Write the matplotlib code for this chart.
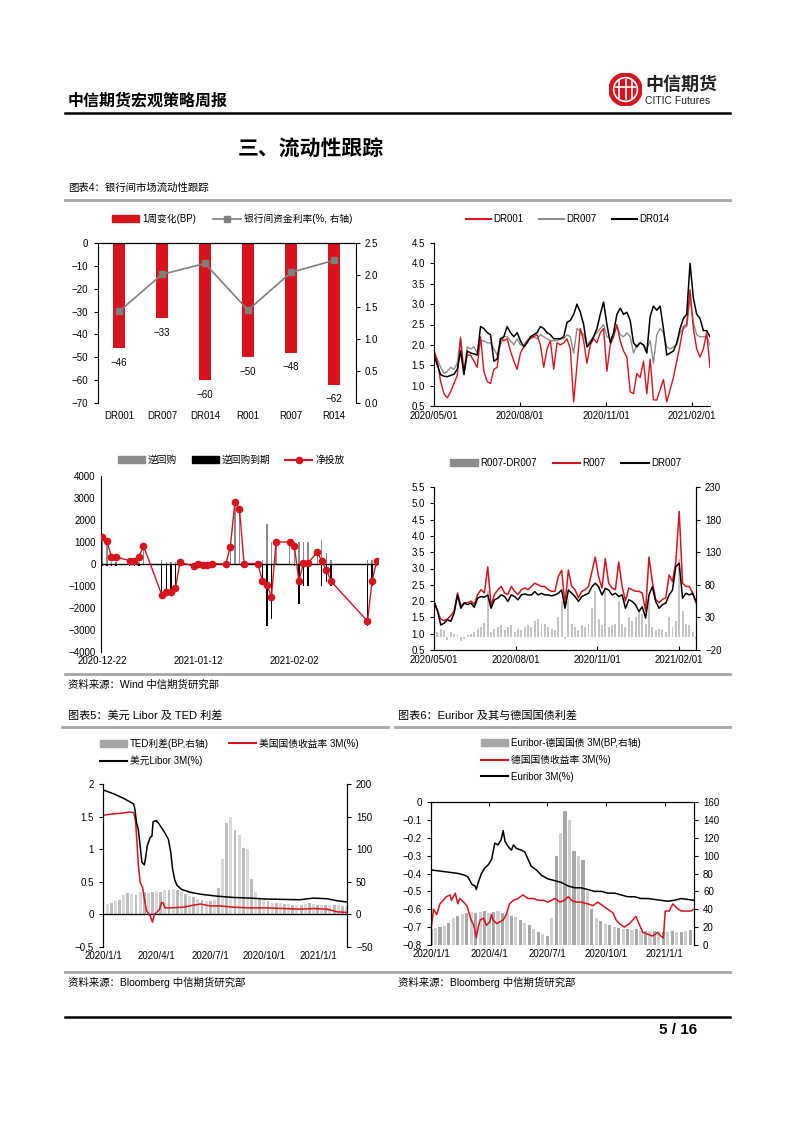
import numpy as np
import matplotlib
matplotlib.use('Agg')
import matplotlib.pyplot as plt
from matplotlib.lines import Line2D
from matplotlib.patches import Patch, Circle
from matplotlib.ticker import FuncFormatter

plt.rcParams['font.family'] = ['Liberation Sans', 'Noto Sans CJK SC']
plt.rcParams['font.size'] = 7
plt.rcParams['axes.unicode_minus'] = True

# ---- chart 1: interbank rates, 1-week change ----
c1_cats = ['DR001', 'DR007', 'DR014', 'R001', 'R007', 'R014']
c1_change = [-46, -33, -60, -50, -48, -62]
c1_rate = [1.43, 2.01, 2.18, 1.45, 2.04, 2.23]

# ---- chart 2: DR001 / DR007 / DR014 (2020/05/01 - 2021/02/19) ----
dr001 = [1.85, 1.60, 1.10, 0.80, 0.70, 0.85, 1.05, 1.25, 2.15, 1.30,
         1.75, 1.75, 1.60, 1.45, 2.20, 1.35, 1.10, 1.05, 1.40, 1.45,
         2.15, 2.10, 2.15, 1.85, 1.60, 1.40, 1.80, 1.95, 2.10, 2.15,
         2.20, 2.25, 2.00, 1.45, 1.90, 2.10, 1.40, 2.05, 2.00, 2.05,
         2.15, 1.90, 0.60, 1.50, 2.40, 2.10, 1.55, 2.00, 2.15, 2.05,
         2.30, 2.40, 1.35, 2.00, 2.20, 2.50, 2.10, 1.85, 1.70, 0.85,
         0.80, 1.30, 1.20, 1.60, 0.80, 1.65, 0.65, 0.65, 0.90, 1.15,
         0.60, 0.90, 1.20, 1.60, 2.00, 2.45, 2.50, 3.35, 2.40, 1.90,
         1.70, 1.90, 2.30, 1.45]
dr007 = [1.85, 1.65, 1.45, 1.30, 1.35, 1.45, 1.40, 1.55, 2.20, 1.35,
         1.95, 1.90, 1.95, 1.80, 2.10, 2.10, 2.05, 2.05, 1.90, 1.75,
         2.00, 2.20, 2.20, 2.10, 2.00, 2.15, 2.00, 2.00, 2.10, 2.20,
         2.20, 2.15, 2.25, 2.20, 2.15, 2.10, 2.10, 2.10, 2.15, 2.15,
         2.25, 2.20, 1.80, 2.40, 2.35, 2.25, 2.00, 2.10, 2.20, 2.30,
         2.40, 2.50, 2.20, 2.15, 2.25, 2.45, 2.25, 2.20, 2.30, 2.20,
         1.80, 2.00, 2.05, 2.00, 1.90, 2.10, 1.55, 2.25, 2.40, 2.30,
         1.95, 1.90, 1.95, 2.00, 2.30, 2.40, 2.45, 3.15, 2.55, 2.25,
         2.20, 2.20, 2.20, 2.00]
dr014 = [1.75, 1.50, 1.27, 1.23, 1.22, 1.25, 1.28, 1.40, 1.85, 1.27,
         1.85, 1.80, 1.78, 1.75, 2.45, 2.40, 2.30, 2.25, 1.60, 1.65,
         2.15, 2.20, 2.45, 2.30, 2.20, 2.30, 2.10, 1.95, 2.05, 2.20,
         2.25, 2.30, 2.45, 2.40, 2.30, 2.25, 2.15, 2.15, 2.15, 2.20,
         2.55, 2.60, 2.75, 3.00, 2.80, 2.50, 1.95, 2.05, 2.20, 2.40,
         2.75, 3.05, 2.50, 2.05, 2.30, 2.75, 2.90, 2.75, 2.80, 2.60,
         2.05, 1.95, 2.05, 2.00, 1.80, 2.70, 2.95, 2.85, 2.95, 2.40,
         1.75, 1.80, 1.85, 2.05, 2.40, 2.65, 2.75, 4.00, 3.15, 2.75,
         2.65, 2.35, 2.35, 2.20]
c2_span = 295  # days after 2020/05/01
c2_ticks = [0, 92, 184, 276]
c2_ticklabels = ['2020/05/01', '2020/08/01', '2020/11/01', '2021/02/01']

# ---- chart 3: open market operations (days after 2020-12-22) ----
omo_days = [0, 1, 2, 3, 6, 7, 8, 9, 13, 14, 15, 16, 17, 20, 21, 22, 23, 24, 27, 28,
            29, 30, 31, 34, 35, 36, 37, 38, 41, 42, 43, 44, 45, 47, 48, 49, 50, 58, 59, 60]
omo_repo = [1200, 1000, 100, 100, 100, 100, 100, 800, 200, 100, 100, 100, 100, 0, 100, 100, 100, 100, 100, 800,
            2800, 2500, 100, 100, 200, 1800, 1000, 1000, 1000, 1000, 1000, 1000, 1000, 500, 1100, 500, 200, 200, 200, 200]
omo_mature = [-100, -100, -100, -100, -100, -100, -100, 0, -1600, -1400, -1400, -1200, 0, -100, -100, -100, -100, -100, -100, 0,
              0, 0, -100, -100, -950, -2800, -2500, 0, 0, -100, -1800, -1000, -1000, 0, -1000, -800, -1000, -2800, -1000, -100]
omo_net = [1250, 1050, 320, 320, 150, 150, 320, 830, -1400, -1250, -1250, -1080, 80, -100, 0, -50, -50, 20, 0, 780,
           2800, 2500, 20, 20, -750, -970, -1480, 1000, 1000, 820, -780, 50, 50, 530, 150, -250, -780, -2600, -780, 130]
c3_ticks = [0, 21, 42]
c3_ticklabels = ['2020-12-22', '2021-01-12', '2021-02-02']

# ---- chart 4: R007 vs DR007 ----
r007 = [1.95, 1.70, 1.45, 1.40, 1.45, 1.55, 1.70, 2.25, 1.85, 1.95,
        1.95, 2.00, 1.90, 2.20, 2.35, 2.25, 3.05, 1.85, 2.20, 2.35,
        2.45, 2.25, 2.20, 2.45, 2.30, 2.20, 2.35, 2.40, 2.35, 2.45,
        2.55, 2.50, 2.45, 2.45, 2.35, 2.30, 2.30, 2.75, 2.95, 1.90,
        2.95, 2.45, 2.35, 2.10, 2.30, 2.35, 2.45, 2.90, 3.35, 2.75,
        2.40, 3.30, 2.55, 2.40, 2.35, 3.20, 2.45, 2.00, 2.40, 2.35,
        2.30, 2.30, 2.25, 1.70, 3.35, 2.60, 2.05, 1.95, 2.05, 2.10,
        2.80, 2.60, 3.20, 4.75, 2.55, 2.45, 2.45, 2.25, 1.95]
dr007_b = [1.99, 1.73, 1.27, 1.32, 1.43, 1.38, 1.63, 2.19, 1.78, 1.94,
           1.89, 1.94, 1.81, 2.09, 2.14, 2.12, 2.19, 1.78, 2.04, 2.09,
           2.19, 2.14, 1.99, 2.19, 2.14, 2.04, 2.19, 2.22, 2.19, 2.19,
           2.29, 2.19, 2.24, 2.19, 2.19, 2.16, 2.19, 2.24, 2.34, 1.78,
           2.34, 2.24, 2.14, 1.99, 2.14, 2.19, 2.24, 2.44, 2.55, 2.44,
           2.19, 2.39, 2.34, 2.19, 2.24, 2.14, 2.19, 1.78, 2.04, 1.99,
           1.89, 1.68, 1.83, 1.48, 2.19, 2.44, 1.99, 1.78, 1.89, 1.94,
           2.19, 2.34, 3.06, 3.16, 2.09, 2.24, 2.19, 2.24, 1.99]
r_dr_spread = [5, 8, 12, 10, -5, 8, 5, 3, -6, -3,
               3, 5, 8, 12, 15, 22, 70, 8, 12, 15,
               18, 10, 15, 18, 8, 12, 10, 15, 18, 15,
               25, 28, 20, 20, 15, 12, 10, 30, 55, -3,
               58, 20, 15, 10, 18, 15, 20, 45, 70, 28,
               18, 75, 15, 18, 20, 55, 20, 15, 30, 25,
               30, 40, 35, 20, 60, 15, 10, 12, 10, 8,
               30, 15, 25, 120, 40, 20, 18, 8, -3]
c4_span = 295

# ---- chart 5: USD Libor, T-bill, TED (days after 2020/1/1) ----
libor_days = [0, 18, 35, 49, 52, 54, 57, 60, 63, 66, 70, 72, 75, 80, 83, 85, 90, 94, 100, 105,
              111, 115, 118, 122, 126, 134, 148, 165, 193, 221, 249, 278, 306, 334, 357, 380, 397, 414]
libor = [1.91, 1.85, 1.78, 1.71, 1.69, 1.62, 1.40, 1.30, 1.05, 0.80, 0.76, 0.85, 1.05, 1.18, 1.20, 1.42, 1.44, 1.40, 1.32, 1.25,
         1.15, 0.95, 0.70, 0.52, 0.44, 0.38, 0.34, 0.31, 0.28, 0.26, 0.25, 0.235, 0.23, 0.225, 0.25, 0.24, 0.21, 0.19]
tb_days = [0, 15, 30, 45, 52, 55, 57, 60, 63, 65, 67, 70, 74, 80, 84, 87, 91, 96, 99, 102,
           105, 113, 136, 153, 165, 182, 199, 221, 249, 278, 306, 334, 357, 380, 397, 414]
tbill = [1.52, 1.54, 1.55, 1.57, 1.56, 1.45, 1.20, 0.75, 0.50, 0.45, 0.42, 0.25, 0.05, -0.02, -0.12, 0.00, 0.03, 0.08, 0.18, 0.18,
         0.10, 0.10, 0.11, 0.14, 0.16, 0.13, 0.13, 0.11, 0.10, 0.10, 0.09, 0.08, 0.09, 0.08, 0.04, 0.03]
ted_weekly = [15, 16, 18, 20, 22, 30, 33, 32, 30, 35, 34, 33, 34, 36, 35, 37, 38, 39, 37, 35,
              31, 28, 26, 24, 22, 20, 20, 22, 40, 85, 140, 150, 130, 122, 102, 100, 55, 35, 25, 22,
              20, 18, 17, 17, 16, 16, 15, 15, 15, 16, 17, 16, 15, 15, 14, 14, 14, 14, 13, 13]

# ---- chart 6: Euribor, German 3M bill, spread ----
eur_days = [0, 22, 43, 53, 58, 64, 69, 71, 74, 79, 84, 90, 95, 100, 105, 110, 113, 116, 121, 126,
            129, 134, 142, 147, 152, 157, 165, 173, 183, 194, 204, 215, 225, 235, 246, 256, 267, 277, 288, 298,
            308, 319, 329, 340, 350, 360, 371, 381, 392, 402, 412]
euribor = [-0.38, -0.39, -0.40, -0.41, -0.42, -0.46, -0.47, -0.49, -0.45, -0.40, -0.37, -0.35, -0.32, -0.23, -0.24, -0.21, -0.16, -0.22, -0.25, -0.27,
           -0.24, -0.26, -0.27, -0.28, -0.32, -0.36, -0.38, -0.41, -0.43, -0.44, -0.45, -0.47, -0.48, -0.48, -0.49, -0.50, -0.50, -0.51, -0.51, -0.52,
           -0.53, -0.53, -0.54, -0.54, -0.545, -0.55, -0.555, -0.55, -0.54, -0.545, -0.55]
de_days = [0, 4, 9, 14, 19, 24, 30, 32, 38, 42, 45, 51, 56, 58, 61, 64, 66, 69, 71, 74,
           77, 82, 87, 92, 95, 97, 103, 108, 113, 118, 123, 129, 136, 144, 152, 160, 168, 176, 183, 194,
           202, 209, 215, 220, 228, 235, 246, 254, 261, 269, 277, 285, 290, 295, 303, 311, 316, 321, 327, 332,
           340, 347, 355, 360, 364, 367, 373, 379, 384, 392, 399, 407, 412]
de3m = [-0.72, -0.60, -0.63, -0.57, -0.55, -0.53, -0.52, -0.55, -0.51, -0.57, -0.54, -0.56, -0.58, -0.60, -0.64, -0.67, -0.68, -0.72, -0.76, -0.70,
        -0.66, -0.65, -0.69, -0.67, -0.63, -0.66, -0.68, -0.67, -0.66, -0.63, -0.57, -0.55, -0.54, -0.52, -0.54, -0.54, -0.55, -0.55, -0.56, -0.54,
        -0.56, -0.55, -0.53, -0.55, -0.56, -0.56, -0.57, -0.58, -0.56, -0.58, -0.60, -0.62, -0.66, -0.68, -0.70, -0.68, -0.66, -0.64, -0.69, -0.73,
        -0.74, -0.75, -0.73, -0.75, -0.76, -0.61, -0.61, -0.57, -0.59, -0.61, -0.61, -0.61, -0.60]
eur_spread_weekly = [18, 19, 20, 21, 25, 30, 33, 35, 36, 37, 36, 37, 38, 36, 37, 38, 36, 35, 33, 31,
                     28, 25, 22, 18, 14, 12, 10, 30, 100, 125, 150, 140, 105, 100, 95, 60, 40, 30, 27, 24,
                     22, 20, 19, 18, 18, 17, 18, 17, 16, 16, 16, 16, 15, 15, 16, 15, 15, 16, 17]
q_ticks = [0, 91, 182, 274, 366]
q_ticklabels = ['2020/1/1', '2020/4/1', '2020/7/1', '2020/10/1', '2021/1/1']

RED = '#d7141e'
GRAY = '#8c8c8c'
W, H = 793, 1122

fig = plt.figure(figsize=(W / 100, H / 100), dpi=100)


def fx(x):
    return x / W


def fy(y):
    return 1 - y / H


def box(x0, y0, x1, y1):
    return [x0 / W, 1 - y1 / H, (x1 - x0) / W, (y1 - y0) / H]


def hline(x0, x1, y, color, lw):
    fig.add_artist(Line2D([fx(x0), fx(x1)], [fy(y), fy(y)], color=color, lw=lw))


def minus(v, fmt='{:g}'):
    s = fmt.format(round(v, 6))
    if s in ('-0', '-0.0'):
        s = s[1:]
    return s.replace('-', '\u2212')


def legend_at(handles, labels, x, y, loc, **kw):
    fig.legend(handles, labels, loc=loc, bbox_to_anchor=(fx(x), fy(y)), frameon=False,
               fontsize=7, handletextpad=0.3, borderaxespad=0, borderpad=0, **kw)


# ---------------- page header ----------------
fig.text(fx(68), fy(101), '中信期货宏观策略周报', fontsize=11.5, fontweight='bold',
         family='Noto Sans CJK SC', va='center')
hline(65, 730, 112.5, 'black', 1.8)
logo = fig.add_axes(box(609, 73, 642, 106))
logo.set_xlim(-1, 1)
logo.set_ylim(-1, 1)
logo.axis('off')
logo.add_patch(Circle((0, 0), 1, color=RED))
logo.add_patch(Circle((0, 0), 0.72, fill=False, ec='white', lw=1.2))
for xv in (-0.4, 0, 0.4):
    logo.plot([xv, xv], [-0.6, 0.6], color='white', lw=1.2)
logo.plot([-0.55, 0.55], [0.15, 0.15], color='white', lw=1.2)
fig.text(fx(645), fy(84), '中信期货', fontsize=13, fontweight='bold',
         family='Noto Sans CJK SC', va='center', color='#222222')
fig.text(fx(645), fy(101), 'CITIC Futures', fontsize=7.5, va='center', color='#222222')

fig.text(fx(311), fy(148), '三、流动性跟踪', fontsize=15, fontweight='bold',
         family='Noto Sans CJK SC', ha='center', va='center')

fig.text(fx(68), fy(188), '图表4：银行间市场流动性跟踪', fontsize=7.5, va='center')
hline(65, 730, 200, '#a6a6a6', 2)

# ---------------- chart 1 ----------------
ax1 = fig.add_axes(box(97.5, 243, 355.5, 403))
xc = np.arange(len(c1_cats))
ax1.bar(xc, c1_change, width=0.3, color=RED)
for xi, v in zip(xc, c1_change):
    ax1.annotate(minus(v), (xi, v), xytext=(0, -7), textcoords='offset points',
                 ha='center', va='top', fontsize=7)
ax1.set_xlim(-0.5, 5.5)
ax1.set_ylim(-70, 0)
ax1.set_yticks(range(-70, 1, 10))
ax1.yaxis.set_major_formatter(FuncFormatter(lambda v, p: minus(v)))
ax1.set_xticks(xc)
ax1.set_xticklabels(c1_cats)
ax1.tick_params(axis='x', length=0, pad=6)
ax1.tick_params(axis='y', length=3, width=0.8)
ax1.spines['bottom'].set_visible(False)
ax1.spines['right'].set_visible(False)
ax1r = ax1.twinx()
ax1r.plot(xc, c1_rate, color='#7f7f7f', lw=1.2, marker='s', markersize=4)
ax1r.set_ylim(0, 2.5)
ax1r.set_yticks(np.arange(0, 2.51, 0.5))
ax1r.yaxis.set_major_formatter(FuncFormatter(lambda v, p: f'{v:.1f}'))
ax1r.tick_params(axis='y', length=3, width=0.8)
for s in ('bottom', 'left'):
    ax1r.spines[s].set_visible(False)
legend_at([Patch(color=RED), Line2D([], [], color='#7f7f7f', marker='s', markersize=4, lw=1.2)],
          ['1周变化(BP)', '银行间资金利率(%, 右轴)'], 232, 219, 'center', ncol=2,
          handlelength=2.8, columnspacing=1.8)

# ---------------- chart 2 ----------------
ax2 = fig.add_axes(box(434, 243, 710, 406))
d2 = np.linspace(0, c2_span, len(dr001))
ax2.plot(d2, dr007, color=GRAY, lw=1)
ax2.plot(d2, dr001, color=RED, lw=1)
ax2.plot(d2, dr014, color='black', lw=1.1)
ax2.set_xlim(0, c2_span)
ax2.set_ylim(0.5, 4.5)
ax2.set_yticks(np.arange(0.5, 4.51, 0.5))
ax2.yaxis.set_major_formatter(FuncFormatter(lambda v, p: f'{v:.1f}'))
ax2.set_xticks(c2_ticks)
ax2.set_xticklabels(c2_ticklabels)
ax2.tick_params(axis='x', direction='in', length=3)
ax2.tick_params(axis='y', length=3)
for s in ('top', 'right'):
    ax2.spines[s].set_visible(False)
legend_at([Line2D([], [], color=RED), Line2D([], [], color=GRAY), Line2D([], [], color='black')],
          ['DR001', 'DR007', 'DR014'], 568, 219, 'center', ncol=3,
          handlelength=2.5, columnspacing=1.6)

# ---------------- chart 3 ----------------
ax3 = fig.add_axes(box(100.5, 476, 378, 652))
ax3.bar(omo_days, omo_repo, width=0.3, color='#8c8c8c')
ax3.bar(omo_days, omo_mature, width=0.3, color='black')
ax3.axhline(0, color='black', lw=1)
ax3.plot(omo_days, omo_net, color=RED, lw=1, marker='o', markersize=4.5, zorder=5)
ax3.set_xlim(-0.4, 60.3)
ax3.set_ylim(-4000, 4000)
ax3.set_yticks(range(-4000, 4001, 1000))
ax3.yaxis.set_major_formatter(FuncFormatter(lambda v, p: minus(v)))
ax3.set_xticks(c3_ticks)
ax3.set_xticklabels(c3_ticklabels)
ax3.tick_params(axis='x', length=0, pad=3)
ax3.tick_params(axis='y', length=0)
for s in ('top', 'right', 'bottom'):
    ax3.spines[s].set_visible(False)
legend_at([Patch(color='#8c8c8c'), Patch(color='black'),
           Line2D([], [], color=RED, marker='o', markersize=4.5)],
          ['逆回购', '逆回购到期', '净投放'], 231, 460, 'center', ncol=3,
          handlelength=2.8, columnspacing=1.5)

# ---------------- chart 4 ----------------
ax4 = fig.add_axes(box(434, 487, 696, 650))
ax4r = ax4.twinx()
d4 = np.linspace(0, c4_span, len(r007))
ax4r.bar(d4, r_dr_spread, width=2.2, color='#c4c4c4')
ax4r.set_ylim(-20, 230)
ax4r.set_yticks(range(-20, 231, 50))
ax4r.yaxis.set_major_formatter(FuncFormatter(lambda v, p: minus(v)))
ax4r.tick_params(axis='y', length=3)
ax4.set_zorder(ax4r.get_zorder() + 1)
ax4.patch.set_visible(False)
ax4.plot(d4, r007, color=RED, lw=1.1)
ax4.plot(d4, dr007_b, color='black', lw=1.1)
ax4.set_xlim(0, c4_span)
ax4.set_ylim(0.5, 5.5)
ax4.set_yticks(np.arange(0.5, 5.51, 0.5))
ax4.yaxis.set_major_formatter(FuncFormatter(lambda v, p: f'{v:.1f}'))
ax4.set_xticks(c2_ticks)
ax4.set_xticklabels(c2_ticklabels)
ax4.tick_params(axis='x', direction='in', length=3)
ax4.tick_params(axis='y', length=3)
for a in (ax4, ax4r):
    a.spines['top'].set_visible(False)
legend_at([Patch(color='#8c8c8c'), Line2D([], [], color=RED), Line2D([], [], color='black')],
          ['R007-DR007', 'R007', 'DR007'], 566, 463, 'center', ncol=3,
          handlelength=2.8, columnspacing=1.6)

hline(65, 730, 674, '#a6a6a6', 2)
fig.text(fx(68), fy(685), '资料来源：Wind 中信期货研究部', fontsize=7.5, va='center')

# ---------------- chart 5 ----------------
fig.text(fx(68), fy(716), '图表5：美元 Libor 及 TED 利差', fontsize=8, va='center')
hline(62, 388, 727, '#a6a6a6', 2)
ax5 = fig.add_axes(box(103, 784, 347, 947))
ax5r = ax5.twinx()
ted_days = np.arange(len(ted_weekly)) * 7
ax5r.bar(ted_days, ted_weekly, width=5, color=['#bcbcbc', '#d9d9d9'] * (len(ted_weekly) // 2))
ax5r.set_ylim(-50, 200)
ax5r.set_yticks(range(-50, 201, 50))
ax5r.yaxis.set_major_formatter(FuncFormatter(lambda v, p: minus(v)))
ax5r.tick_params(axis='y', length=3)
ax5.set_zorder(ax5r.get_zorder() + 1)
ax5.patch.set_visible(False)
ax5.axhline(0, color='black', lw=1)
ax5.plot(tb_days, tbill, color=RED, lw=1.1)
ax5.plot(libor_days, libor, color='black', lw=1.1)
ax5.set_xlim(0, 414)
ax5.set_ylim(-0.5, 2)
ax5.set_yticks(np.arange(-0.5, 2.01, 0.5))
ax5.yaxis.set_major_formatter(FuncFormatter(lambda v, p: minus(v)))
ax5.set_xticks(q_ticks)
ax5.set_xticklabels(q_ticklabels)
ax5.tick_params(axis='x', length=0, pad=3)
ax5.tick_params(axis='y', length=3)
for a in (ax5, ax5r):
    a.spines['top'].set_visible(False)
    a.spines['bottom'].set_visible(False)
legend_at([Patch(color='#a6a6a6'), Line2D([], [], color='black'), Line2D([], [], color=RED)],
          ['TED利差(BP,右轴)', '美元Libor 3M(%)', '美国国债收益率 3M(%)'], 100, 738, 'upper left',
          ncol=2, handlelength=2.8, columnspacing=2.0, labelspacing=0.7)

# ---------------- chart 6 ----------------
fig.text(fx(398), fy(716), '图表6：Euribor 及其与德国国债利差', fontsize=8, va='center')
hline(395, 730, 727, '#a6a6a6', 2)
ax6 = fig.add_axes(box(431, 802, 694, 945))
ax6r = ax6.twinx()
eur_sp_days = np.arange(len(eur_spread_weekly)) * 7
ax6r.bar(eur_sp_days, eur_spread_weekly, width=5,
         color=['#a8a8a8', '#d0d0d0'] * (len(eur_spread_weekly) // 2) + ['#a8a8a8'])
ax6r.set_ylim(0, 160)
ax6r.set_yticks(range(0, 161, 20))
ax6r.tick_params(axis='y', length=3)
ax6.set_zorder(ax6r.get_zorder() + 1)
ax6.patch.set_visible(False)
ax6.plot(de_days, de3m, color=RED, lw=1.1)
ax6.plot(eur_days, euribor, color='black', lw=1.1)
ax6.set_xlim(0, 412)
ax6.set_ylim(-0.8, 0)
ax6.set_yticks(np.arange(-0.8, 0.001, 0.1))
ax6.yaxis.set_major_formatter(FuncFormatter(lambda v, p: minus(v)))
ax6.set_xticks(q_ticks)
ax6.set_xticklabels(q_ticklabels)
ax6.tick_params(axis='x', top=True, bottom=False, direction='in', length=3, pad=3)
ax6.tick_params(axis='y', length=3)
for a in (ax6, ax6r):
    a.spines['bottom'].set_visible(False)
legend_at([Patch(color='#a6a6a6'), Line2D([], [], color=RED), Line2D([], [], color='black')],
          ['Euribor-德国国债 3M(BP,右轴)', '德国国债收益率 3M(%)', 'Euribor 3M(%)'], 481, 738,
          'upper left', ncol=1, handlelength=2.8, labelspacing=0.7)

hline(65, 730, 972, '#a6a6a6', 2)
fig.text(fx(68), fy(982), '资料来源：Bloomberg 中信期货研究部', fontsize=7.5, va='center')
fig.text(fx(398), fy(982), '资料来源：Bloomberg 中信期货研究部', fontsize=7.5, va='center')

# ---------------- footer ----------------
hline(65, 730, 1017, 'black', 1.8)
fig.text(fx(697), fy(1030), '5 / 16', fontsize=11, fontweight='bold', ha='right', va='center')

fig.savefig('out.png', dpi=100)
